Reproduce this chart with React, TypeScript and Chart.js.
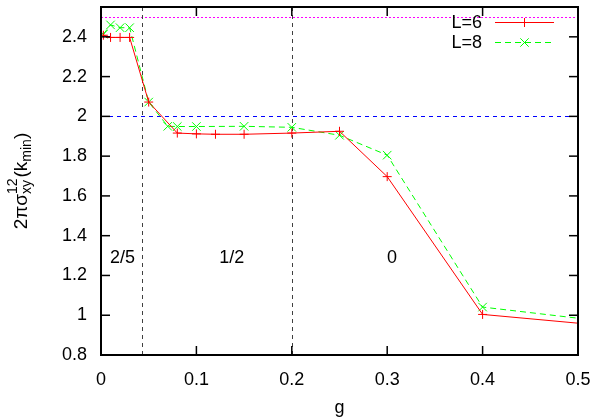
import React, { useEffect, useRef } from 'react';
import { Chart, registerables } from 'chart.js';
Chart.register(...registerables);

const gL6 = [0.0025, 0.01, 0.02, 0.03, 0.05, 0.08, 0.1, 0.12, 0.15, 0.2, 0.25, 0.3, 0.4, 0.5];
const sL6 = [2.408, 2.397, 2.397, 2.397, 2.072, 1.916, 1.912, 1.91, 1.91, 1.916, 1.925, 1.697, 1.004, 0.96];
const gL8 = [0.0025, 0.01, 0.02, 0.03, 0.05, 0.07, 0.08, 0.1, 0.15, 0.2, 0.25, 0.3, 0.4, 0.5];
const sL8 = [2.413, 2.46, 2.446, 2.446, 2.072, 1.95, 1.949, 1.949, 1.95, 1.945, 1.905, 1.805, 1.041, 0.985];

const xTicks = [0, 0.1, 0.2, 0.3, 0.4, 0.5];
const xTickLabels = ['0', '0.1', '0.2', '0.3', '0.4', '0.5'];
const yTicks = [0.8, 1.0, 1.2, 1.4, 1.6, 1.8, 2.0, 2.2, 2.4];
const yTickLabels = ['0.8', '1', '1.2', '1.4', '1.6', '1.8', '2', '2.2', '2.4'];

const phaseBoundaries = [0.0433, 0.2];
const refLevels = [2.5, 2.0];
const phaseLabels = ['2/5', '1/2', '0'];
const phaseLabelG = [0.0225, 0.137, 0.305];
const phaseLabelV = 1.264;

const FONT = '"Liberation Sans", Arial, Helvetica, sans-serif';

function line(ctx: CanvasRenderingContext2D, x1: number, y1: number, x2: number, y2: number) {
  ctx.beginPath();
  ctx.moveTo(x1, y1);
  ctx.lineTo(x2, y2);
  ctx.stroke();
}

export default function App() {
  const ref = useRef<HTMLCanvasElement | null>(null);
  useEffect(() => {
    document.body.style.margin = '0';
    const canvas = ref.current!;
    const overlay = {
      id: 'overlay',
      beforeDatasetsDraw(chart: any) {
        const ctx: CanvasRenderingContext2D = chart.ctx;
        const a = chart.chartArea;
        const xs = chart.scales.x, ys = chart.scales.y;
        ctx.save();
        ctx.lineWidth = 1;
        ctx.strokeStyle = 'rgb(255,0,255)';
        ctx.setLineDash([2, 2]);
        let y = Math.round(ys.getPixelForValue(refLevels[0])) + 0.5;
        line(ctx, a.left, y, a.right, y);
        ctx.strokeStyle = 'rgb(0,0,255)';
        ctx.setLineDash([4, 4]);
        y = Math.round(ys.getPixelForValue(refLevels[1])) + 0.5;
        line(ctx, a.left, y, a.right, y);
        ctx.strokeStyle = 'rgb(64,64,64)';
        ctx.setLineDash([4, 4]);
        for (const g of phaseBoundaries) {
          const x = Math.round(xs.getPixelForValue(g)) + 0.5;
          line(ctx, x, a.bottom, x, a.top);
        }
        ctx.setLineDash([]);
        ctx.fillStyle = 'rgb(0,0,0)';
        ctx.font = '18px ' + FONT;
        ctx.textAlign = 'center';
        ctx.textBaseline = 'alphabetic';
        phaseLabels.forEach((t, i) => {
          ctx.fillText(t, xs.getPixelForValue(phaseLabelG[i]), ys.getPixelForValue(phaseLabelV));
        });
        ctx.restore();
      },
      afterDraw(chart: any) {
        const ctx: CanvasRenderingContext2D = chart.ctx;
        const a = chart.chartArea;
        const xs = chart.scales.x, ys = chart.scales.y;
        ctx.save();
        ctx.setLineDash([]);
        // legend
        ctx.font = '18px ' + FONT;
        ctx.fillStyle = 'rgb(0,0,0)';
        ctx.textAlign = 'right';
        ctx.textBaseline = 'middle';
        const ds = chart.data.datasets;
        const rows = [22.5, 42.5];
        ds.forEach((d: any, i: number) => {
          const yy = rows[i];
          ctx.fillText(d.label, 482, yy + 1);
          ctx.strokeStyle = d.borderColor;
          ctx.lineWidth = 1;
          ctx.setLineDash(d.borderDash || []);
          line(ctx, 495, yy, 554, yy);
          ctx.setLineDash([]);
          const mx = 524.5;
          if (d.pointStyle === 'cross') {
            line(ctx, mx - 4.5, yy, mx + 4.5, yy);
            line(ctx, mx, yy - 4.5, mx, yy + 4.5);
          } else {
            line(ctx, mx - 4.2, yy - 4.2, mx + 4.2, yy + 4.2);
            line(ctx, mx - 4.2, yy + 4.2, mx + 4.2, yy - 4.2);
          }
        });
        // frame + inside ticks
        ctx.strokeStyle = '#000000';
        ctx.lineWidth = 2;
        line(ctx, a.left - 1, a.top, a.right + 1, a.top);
        line(ctx, a.right, a.top, a.right, a.bottom);
        line(ctx, a.right + 1, a.bottom, a.left - 1, a.bottom);
        line(ctx, a.left, a.bottom, a.left, a.top);
        ctx.lineWidth = 1.5;
        const tl = 9;
        for (const v of xTicks) {
          const x = xs.getPixelForValue(v);
          line(ctx, x, a.bottom, x, a.bottom - tl);
          line(ctx, x, a.top, x, a.top + tl);
        }
        for (const v of yTicks) {
          const yy = ys.getPixelForValue(v);
          line(ctx, a.left, yy, a.left + tl, yy);
          line(ctx, a.right, yy, a.right - tl, yy);
        }
        // x title
        ctx.fillStyle = 'rgb(0,0,0)';
        ctx.textAlign = 'center';
        ctx.textBaseline = 'alphabetic';
        ctx.font = '18px ' + FONT;
        ctx.fillText('g', (a.left + a.right) / 2, 413);
        // y title
        ctx.translate(27, 181);
        ctx.rotate(-Math.PI / 2);
        const big = '19px ' + FONT, small = '14px ' + FONT;
        ctx.font = big; const w1 = ctx.measureText('2πσ').width;
        ctx.font = small; const w2 = Math.max(ctx.measureText('12').width, ctx.measureText('xy').width);
        ctx.font = big; const w3 = ctx.measureText('(k').width;
        ctx.font = small; const w4 = ctx.measureText('min').width;
        ctx.font = big; const w5 = ctx.measureText(')').width;
        const total = w1 + w2 + w3 + w4 + w5 + 1;
        let x = -total / 2;
        ctx.textAlign = 'left';
        ctx.font = big; ctx.fillText('2πσ', x, 0); x += w1;
        ctx.font = small; ctx.fillText('12', x, -10); ctx.fillText('xy', x, 4); x += w2 + 1;
        ctx.font = big; ctx.fillText('(k', x, 0); x += w3;
        ctx.font = small; ctx.fillText('min', x, 4); x += w4;
        ctx.font = big; ctx.fillText(')', x, 0);
        ctx.restore();
      },
    };

    const lastHidden = (r: number) => (c: any) => (c.dataIndex === c.dataset.data.length - 1 ? 0 : r);

    const chart = new Chart(canvas, {
      type: 'line',
      data: {
        datasets: [
          {
            label: 'L=6',
            data: gL6.map((g, i) => ({ x: g, y: sL6[i] })),
            borderColor: '#ff0000',
            backgroundColor: '#ff0000',
            borderWidth: 1,
            pointStyle: 'cross',
            pointRadius: lastHidden(4.5) as any,
            pointBorderWidth: 1,
            pointBorderColor: '#ff0000',
            fill: false,
            tension: 0,
          },
          {
            label: 'L=8',
            data: gL8.map((g, i) => ({ x: g, y: sL8[i] })),
            borderColor: '#00ff00',
            backgroundColor: '#00ff00',
            borderWidth: 1,
            borderDash: [6, 4],
            pointStyle: 'crossRot',
            pointRadius: lastHidden(6) as any,
            pointBorderWidth: 1,
            pointBorderColor: '#00ff00',
            fill: false,
            tension: 0,
          },
        ],
      },
      options: {
        animation: false,
        responsive: false,
        maintainAspectRatio: false,
        layout: { padding: { top: 2, right: 20, left: 0, bottom: 0 } },
        plugins: { legend: { display: false }, tooltip: { enabled: false } },
        scales: {
          x: {
            type: 'linear',
            min: 0,
            max: 0.5,
            afterBuildTicks: (s: any) => { s.ticks = xTicks.map((v) => ({ value: v })); },
            afterFit: (s: any) => { s.height = 64; s.paddingLeft = 0; s.paddingRight = 0; },
            grid: { display: false, drawTicks: false },
            border: { display: false },
            ticks: {
              color: '#000',
              font: { family: FONT, size: 18 },
              padding: 14,
              maxRotation: 0,
              callback: (_v: any, i: number) => xTickLabels[i],
            },
          },
          y: {
            type: 'linear',
            min: 0.8,
            max: 2.55,
            afterBuildTicks: (s: any) => { s.ticks = yTicks.map((v) => ({ value: v })); },
            afterFit: (s: any) => { s.width = 101; s.paddingTop = 0; s.paddingBottom = 0; },
            grid: { display: false, drawTicks: false },
            border: { display: false },
            ticks: {
              color: '#000',
              font: { family: FONT, size: 18 },
              padding: 14,
              callback: (_v: any, i: number) => yTickLabels[i],
            },
          },
        },
      },
      plugins: [overlay],
    } as any);
    return () => chart.destroy();
  }, []);
  return <canvas ref={ref} width={598} height={419} style={{ display: 'block' }} />;
}
